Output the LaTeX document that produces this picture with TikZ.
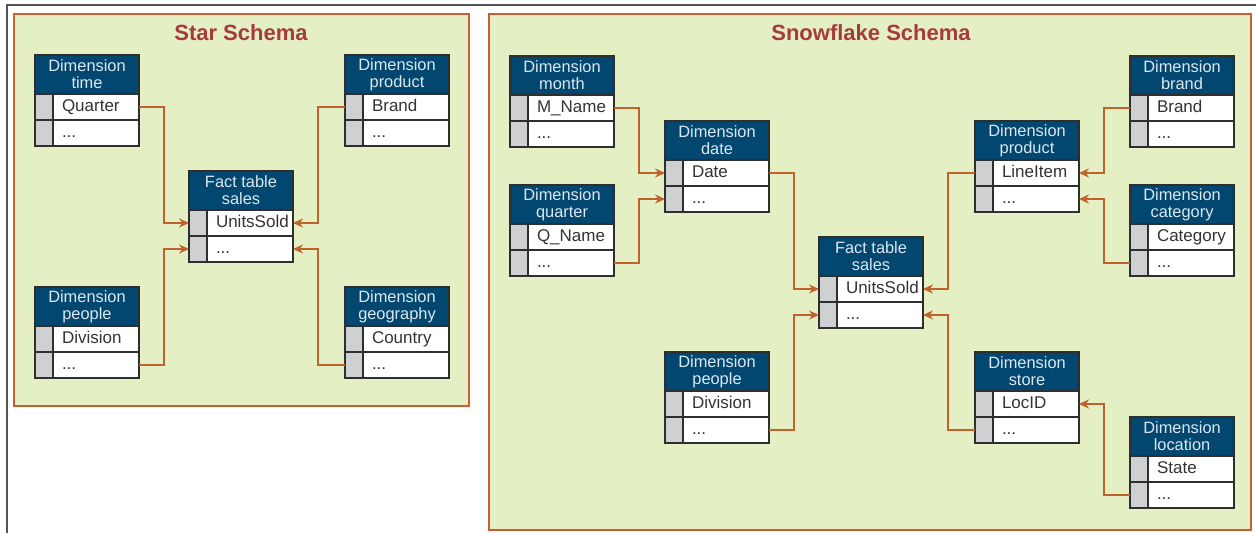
\documentclass[tikz,border=0pt]{standalone}
\usepackage{fontspec}
\setmainfont{Liberation Sans}
\usetikzlibrary{arrows.meta}
\definecolor{panelfill}{HTML}{E5EFC4}
\definecolor{panelline}{HTML}{C95F30}
\definecolor{hdrblue}{HTML}{02476F}
\definecolor{hdrtext}{HTML}{DCE7EF}
\definecolor{cellgray}{HTML}{CFD0D2}
\definecolor{tline}{HTML}{2E2E2E}
\definecolor{conncol}{HTML}{C0622E}
\definecolor{titlecol}{HTML}{A63B3C}
\definecolor{framecol}{HTML}{555555}
\definecolor{rowtext}{HTML}{333333}
\tikzset{
 hdr/.style={draw=tline, line width=0.7pt, fill=hdrblue, text=hdrtext,
   inner sep=0pt, outer sep=0pt, minimum width=52pt, minimum height=19.5pt,
   font=\fontsize{8.2}{8.5}\selectfont, anchor=north west},
 rowbox/.style={draw=tline, line width=0.7pt, fill=white, text=rowtext,
   inner sep=0pt, outer sep=0pt, minimum width=52pt, minimum height=13pt,
   text height=6pt, text depth=1.8pt,
   font=\fontsize{8.5}{9}\selectfont, anchor=north west,
   path picture={\fill[cellgray] (path picture bounding box.south west) rectangle ([xshift=9pt]path picture bounding box.north west);
     \draw[tline, line width=0.7pt] ([xshift=9pt]path picture bounding box.south west) -- ([xshift=9pt]path picture bounding box.north west);}},
 conn/.style={draw=conncol, line width=0.65pt, -{Stealth[length=5pt,width=4.6pt]}},
 panel/.style={draw=panelline, line width=1pt, fill=panelfill},
 ttl/.style={text=titlecol, font=\bfseries\fontsize{11}{12}\selectfont},
}
\newcommand\dimtab[6]{%
 \node[hdr] (#1) at (#2,#3) {\parbox{52pt}{\centering\lineskiplimit=-10pt\relax #4\\#5}};
 \node[rowbox] (#1-a) at (#1.south west) {\makebox[52pt][l]{\hspace*{13.5pt}#6}};
 \node[rowbox] (#1-b) at (#1-a.south west) {\makebox[52pt][l]{\hspace*{13.5pt}...}};
}
\begin{document}
\begin{tikzpicture}[x=0.5pt,y=-0.5pt]
\useasboundingbox (0,0) rectangle (1256,533);
\draw[framecol, line width=1pt] (7,533) -- (7,5) -- (1256,5);
% panels
\draw[panel] (14,14) rectangle (469,406);
\node[ttl] (startitle) at (241,33) {Star Schema};
\draw[panel] (489,14) rectangle (1251,530);
\node[ttl] (snowtitle) at (871,33) {Snowflake Schema};
% star tables
\dimtab{st-time}{35}{55}{Dimension}{time}{Quarter}
\dimtab{st-prod}{345}{55}{Dimension}{product}{Brand}
\dimtab{st-fact}{189}{171}{Fact table}{sales}{UnitsSold}
\dimtab{st-people}{35}{287}{Dimension}{people}{Division}
\dimtab{st-geo}{345}{287}{Dimension}{geography}{Country}
% snowflake tables
\dimtab{sf-month}{510}{56}{Dimension}{month}{M\_Name}
\dimtab{sf-date}{665}{121}{Dimension}{date}{Date}
\dimtab{sf-quarter}{510}{185}{Dimension}{quarter}{Q\_Name}
\dimtab{sf-prod}{975}{121}{Dimension}{product}{LineItem}
\dimtab{sf-brand}{1130}{56}{Dimension}{brand}{Brand}
\dimtab{sf-cat}{1130}{185}{Dimension}{category}{Category}
\dimtab{sf-fact}{819}{237}{Fact table}{sales}{UnitsSold}
\dimtab{sf-people}{665}{352}{Dimension}{people}{Division}
\dimtab{sf-store}{975}{352}{Dimension}{store}{LocID}
\dimtab{sf-loc}{1130}{417}{Dimension}{location}{State}
% star connectors
\draw[conn] (st-time-a.east) -- ++(25,0) |- (st-fact-a.west);
\draw[conn] (st-people-b.east) -- ++(25,0) |- (st-fact-b.west);
\draw[conn] (st-prod-a.west) -- ++(-27,0) |- (st-fact-a.east);
\draw[conn] (st-geo-b.west) -- ++(-27,0) |- (st-fact-b.east);
% snowflake connectors
\draw[conn] (sf-month-a.east) -- ++(25,0) |- (sf-date-a.west);
\draw[conn] (sf-quarter-b.east) -- ++(25,0) |- (sf-date-b.west);
\draw[conn] (sf-date-a.east) -- ++(25,0) |- (sf-fact-a.west);
\draw[conn] (sf-people-b.east) -- ++(25,0) |- (sf-fact-b.west);
\draw[conn] (sf-prod-a.west) -- ++(-27,0) |- (sf-fact-a.east);
\draw[conn] (sf-store-b.west) -- ++(-27,0) |- (sf-fact-b.east);
\draw[conn] (sf-brand-a.west) -- ++(-26,0) |- (sf-prod-a.east);
\draw[conn] (sf-cat-b.west) -- ++(-26,0) |- (sf-prod-b.east);
\draw[conn] (sf-loc-b.west) -- ++(-26,0) |- (sf-store-a.east);
\end{tikzpicture}
\end{document}
